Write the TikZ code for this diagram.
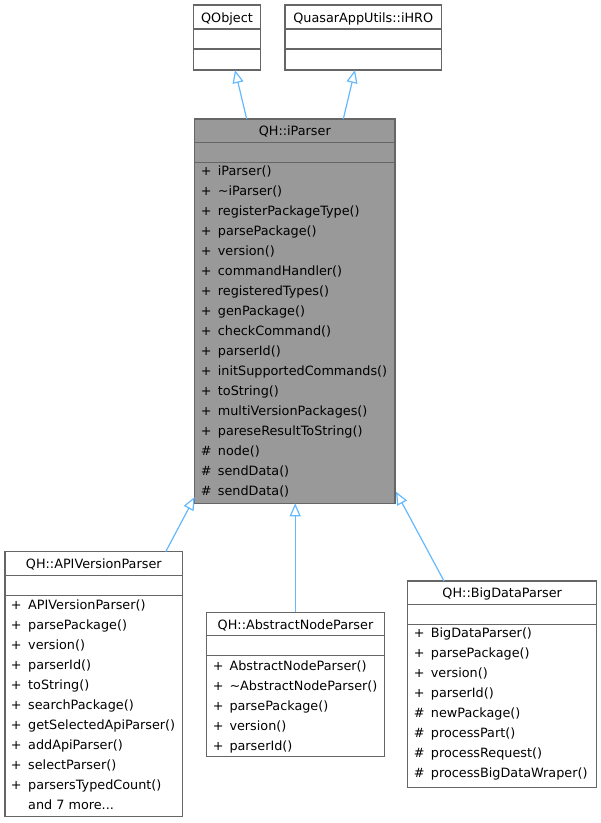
\documentclass[tikz,border=0pt]{standalone}
\usepackage{fontspec}
\setmainfont{DejaVu Sans}
\usetikzlibrary{arrows.meta}
\definecolor{boxgray}{HTML}{666666}
\definecolor{fillgray}{HTML}{999999}
\definecolor{arrowblue}{HTML}{63B8FF}
\newcommand\umlclass[8]{% name, x1,y1,x2,y2,d1,d2,fill
  \pgfmathsetmacro\bw{#4-#2}\pgfmathsetmacro\bh{#5-#3}%
  \node[umlbox, fill=#8, minimum width=\bw pt, minimum height=\bh pt] (#1) at (#2,#3) {};
  \draw[divider] (#2,#6) -- (#4,#6);
  \draw[divider] (#2,#7) -- (#4,#7);
}
\begin{document}
\begin{tikzpicture}[x=1pt,y=-1pt,font=\fontsize{12.8}{15}\selectfont,
  umlbox/.style={draw=boxgray, line width=1.2pt, rectangle, inner sep=0pt, outer sep=0pt, anchor=north west},
  divider/.style={draw=boxgray, line width=1.2pt},
  title/.style={inner sep=0pt, anchor=base},
  sym/.style={inner sep=0pt, anchor=base west},
  mem/.style={inner sep=0pt, anchor=base west},
  inherit/.style={draw=arrowblue, line width=1.2pt, -{Triangle[open, length=13pt, width=11pt]}}]
\useasboundingbox (0,0) rectangle (601,823);

% parents
\umlclass{qobj}{193.3}{5}{260.7}{70}{29}{49}{white}
\node[title] (qobj-t) at (227,22) {QObject};
\umlclass{ihro}{285}{5}{441.7}{70}{29}{49}{white}
\node[title] (ihro-t) at (363.3,22) {QuasarAppUtils::iHRO};

% iParser
\umlclass{ipar}{194.7}{119}{395}{503.3}{142.3}{162.3}{fillgray}
\node[title] (ipar-t) at (294.8,135.6) {QH::iParser};
\foreach \s/\t [count=\i] in {+/iParser(), +/\textasciitilde iParser(), +/registerPackageType(),
  +/parsePackage(), +/version(), +/commandHandler(), +/registeredTypes(), +/genPackage(),
  +/checkCommand(), +/parserId(), +/initSupportedCommands(), +/toString(),
  +/multiVersionPackages(), +/pareseResultToString(), \#/node(), \#/sendData(), \#/sendData()}{
  \node[sym] (ipar-s\i) at (200.7,{155.5+20*\i}) {\s};
  \node[mem] (ipar-m\i) at (217.7,{155.5+20*\i}) {\t};
}

% APIVersionParser
\umlclass{api}{5}{551.7}{182.7}{816.7}{575.7}{595.7}{white}
\node[title] (api-t) at (93.8,568.7) {QH::APIVersionParser};
\foreach \s/\t [count=\i] in {+/APIVersionParser(), +/parsePackage(), +/version(), +/parserId(),
  +/toString(), +/searchPackage(), +/getSelectedApiParser(), +/addApiParser(),
  +/selectParser(), +/parsersTypedCount()}{
  \node[sym] (api-s\i) at (10.7,{589.5+20*\i}) {\s};
  \node[mem] (api-m\i) at (28,{589.5+20*\i}) {\t};
}
\node[mem] (api-more) at (28,809.5) {and 7 more...};

% AbstractNodeParser
\umlclass{abs}{206.7}{612.3}{384.3}{756.7}{635.7}{655.7}{white}
\node[title] (abs-t) at (295.5,629) {QH::AbstractNodeParser};
\foreach \s/\t [count=\i] in {+/AbstractNodeParser(), +/\textasciitilde AbstractNodeParser(),
  +/parsePackage(), +/version(), +/parserId()}{
  \node[sym] (abs-s\i) at (212.7,{650.2+20*\i}) {\s};
  \node[mem] (abs-m\i) at (229.3,{650.2+20*\i}) {\t};
}

% BigDataParser
\umlclass{big}{407.7}{581}{596.7}{787.7}{604.3}{624.3}{white}
\node[title] (big-t) at (502.2,597.7) {QH::BigDataParser};
\foreach \s/\t [count=\i] in {+/BigDataParser(), +/parsePackage(), +/version(), +/parserId(),
  \#/newPackage(), \#/processPart(), \#/processRequest(), \#/processBigDataWraper()}{
  \node[sym] (big-s\i) at (413.7,{617.8+20*\i}) {\s};
  \node[mem] (big-m\i) at (430.7,{617.8+20*\i}) {\t};
}

% inheritance
\draw[inherit] ([xshift=52pt]ipar.north west) -- ([xshift=41.7pt]qobj.south west);
\draw[inherit] ([xshift=148.6pt]ipar.north west) -- ([xshift=70pt]ihro.south west);
\draw[inherit] ([xshift=160.7pt]api.north west) -- ([yshift=6.3pt]ipar.south west);
\draw[inherit] ([xshift=88.5pt]abs.north west) -- ([xshift=100.5pt]ipar.south west);
\draw[inherit] ([xshift=36.3pt]big.north west) -- ([xshift=1pt,yshift=11.6pt]ipar.south east);
\end{tikzpicture}
\end{document}
